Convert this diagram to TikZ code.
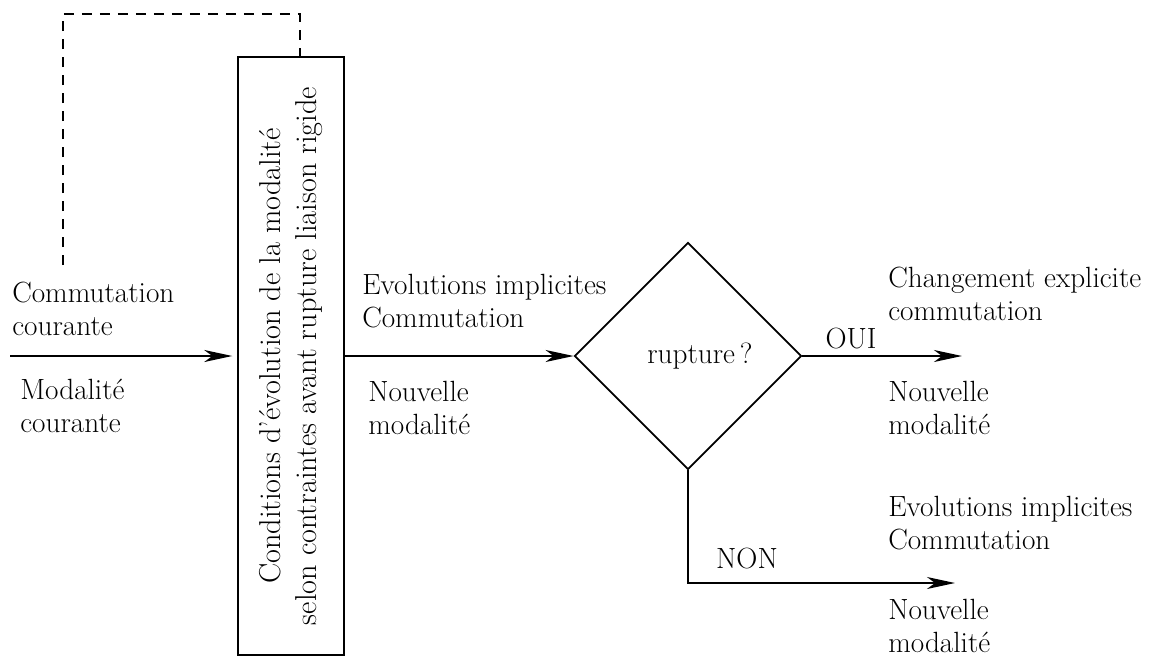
\documentclass[tikz,border=0pt]{standalone}
\usepackage{amsmath}
\usepackage{tikz}
\usetikzlibrary{shapes.geometric,arrows.meta}

\begin{document}
\begin{tikzpicture}[scale=1.0,
  every node/.style={font=\fontsize{20.8}{22.8}\selectfont},
  lbl/.style={anchor=base west,align=left,inner sep=0pt},
  fleche/.style={line width=1.3pt,-{Stealth[length=7mm,width=3mm,inset=2mm]}}]
\useasboundingbox (0,0) rectangle (28.85,-16.5);

% bloc conditions
\node[draw,line width=1.3pt,rotate=90,minimum width=14.95cm,minimum height=2.65cm,
  align=center,inner sep=0pt,font=\fontsize{21.5}{23}\selectfont] (cond) at (7.275,-8.9)
  {Conditions d'évolution de la modalité\\[0.1cm]selon contraintes avant rupture liaison rigide};

% test
\node[draw,line width=1.3pt,diamond,aspect=1,minimum size=5.675cm,inner sep=0pt] (rup) at (17.2,-8.9) {\hspace*{0.6cm}rupture\,?};

% extremites libres
\coordinate (in) at (0.25,-8.9);
\coordinate (fb) at (1.575,-6.625);
\coordinate (fbtop) at (7.5,-0.35);
\coordinate (oui) at (24.05,-8.9);
\coordinate (non) at (23.875,-14.575);

% connecteurs
\draw[fleche,shorten >=0.12cm] (in) -- (in -| cond.north);
\draw[fleche] (cond.south) -- (rup.west);
\draw[fleche] (rup.east) -- (oui);
\draw[fleche] (rup.south) |- (non);
\draw[line width=1.6pt,dash pattern=on 0.25cm off 0.2cm] (fb) |- (fbtop) -- (fbtop |- cond.east);

% textes (base = derniere ligne)
\node[lbl] (t1) at (0.3,-8.375) {Commutation\\courante};
\node[lbl] (t2) at (0.5,-10.8) {Modalité\\courante};
\node[lbl] (t3) at (9.05,-8.175) {Evolutions implicites\\Commutation};
\node[lbl] (t4) at (9.2,-10.85) {Nouvelle\\modalité};
\node[lbl] (t5) at (22.2,-8.0) {Changement explicite\\commutation};
\node[lbl] (t6) at (22.2,-10.85) {Nouvelle\\modalité};
\node[lbl] (t7) at (22.2,-13.725) {Evolutions implicites\\Commutation};
\node[lbl] (t8) at (22.2,-16.3) {Nouvelle\\modalité};
\node[anchor=base,inner sep=0pt] (ouil) at (21.275,-8.7) {OUI};
\node[anchor=base,inner sep=0pt] (nonl) at (18.675,-14.2) {NON};
\end{tikzpicture}
\end{document}
